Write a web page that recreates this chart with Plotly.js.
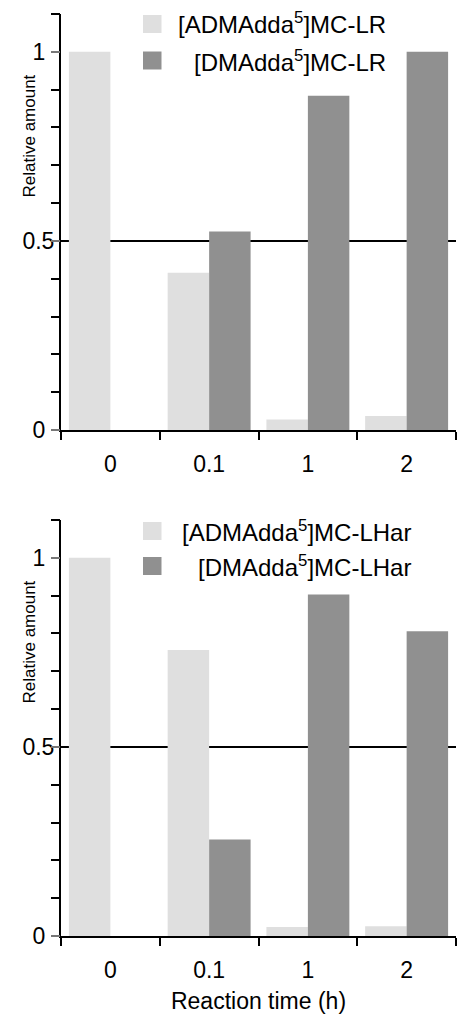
<!DOCTYPE html>
<html>
<head>
<meta charset="utf-8">
<script src="https://cdn.plot.ly/plotly-3.0.1.min.js"></script>
<style>html,body{margin:0;padding:0;background:#fff;}#chart{width:458px;height:1016px;}</style>
</head>
<body>
<div id="chart"></div>
<script>
// ---- data ----
var categories = ['0', '0.1', '1', '2'];
var lrNames = ['[ADMAdda<sup>5</sup>]MC-LR', '[DMAdda<sup>5</sup>]MC-LR'];
var lrADM = [1.0, 0.416, 0.028, 0.037];
var lrDM  = [0.0, 0.525, 0.884, 1.0];
var lharNames = ['[ADMAdda<sup>5</sup>]MC-LHar', '[DMAdda<sup>5</sup>]MC-LHar'];
var lharADM = [1.0, 0.756, 0.024, 0.026];
var lharDM  = [0.0, 0.255, 0.903, 0.806];
var yTickVals = [0, 0.5, 1];
var yTickText = ['0', '0.5', '1'];
var yTitle = 'Relative amount';
var xTitle = 'Reaction time (h)';

// ---- style ----
var FONT = 'Liberation Sans, Arial, sans-serif';
var LIGHT = '#dfdfdf', DARK = '#909090';
var W = 458, H = 1016, ML = 61, MR = 2, MT = 14, MB = 80;
var PW = W - ML - MR, PH = H - MT - MB;
var panelH = 416;
var topDom = [1 - panelH / PH, 1];
var botDom = [0, panelH / PH];
var YR = [0, 1.1001];
function px2x(px) { return (px - ML) / PW; }

function bar(x, y, name, color, xa, ya) {
  return {type: 'bar', x: x, y: y, name: name, xaxis: xa, yaxis: ya,
          marker: {color: color, line: {width: 0}}, showlegend: false, hoverinfo: 'skip'};
}
// invisible helper traces so the overlaid tick-mark axes get drawn
function ghost(xa, ya) {
  return {type: 'scatter', mode: 'markers', x: [categories[0]], y: [yTickVals[0]], xaxis: xa, yaxis: ya,
          marker: {opacity: 0, size: 1}, showlegend: false, hoverinfo: 'skip'};
}
var traces = [
  bar(categories, lrADM, lrNames[0], LIGHT, 'x', 'y'),
  bar(categories, lrDM, lrNames[1], DARK, 'x', 'y'),
  bar(categories, lharADM, lharNames[0], LIGHT, 'x2', 'y2'),
  bar(categories, lharDM, lharNames[1], DARK, 'x2', 'y2'),
  ghost('x', 'y3'),
  ghost('x2', 'y4')
];

var padText = yTickText.map(function (t) { return t.length === 1 ? t + '\u2009\u2009' : t; });

function xaxis(anchor) {
  return {anchor: anchor, domain: [0, 1], type: 'category', showline: true, linewidth: 2, linecolor: '#000',
    ticks: 'outside', tickson: 'boundaries', ticklen: 8, tickwidth: 2, tickcolor: '#000', ticklabelstandoff: 12,
    tickfont: {family: FONT, size: 23, color: '#000'}, showgrid: false, zeroline: false, fixedrange: true};
}
// label axis: line + labels, no ticks
function yaxis(anchor, dom) {
  return {anchor: anchor, domain: dom, range: YR, showline: true, linewidth: 2, linecolor: '#000',
    tickmode: 'array', tickvals: yTickVals, ticktext: padText, ticks: '', ticklabelstandoff: 0,
    tickfont: {family: FONT, size: 23, color: '#000'}, showgrid: false, zeroline: false, fixedrange: true};
}
// tick axis overlaid: major + minor tick marks only
function ytickAxis(anchor, over, dom) {
  return {anchor: anchor, overlaying: over, side: 'left', domain: dom, range: YR, showline: false,
    tickmode: 'array', tickvals: yTickVals, showticklabels: false,
    ticks: 'outside', ticklen: 9, tickwidth: 2, tickcolor: '#777',
    minor: {dtick: 0.1, ticks: 'outside', ticklen: 9, tickwidth: 2, tickcolor: '#000', showgrid: false},
    showgrid: false, zeroline: false, fixedrange: true};
}

var xa2 = xaxis('y2');
xa2.title = {text: xTitle, font: {family: FONT, size: 23, color: '#000'}, standoff: 11};

function legendShapes(yref, rows) {
  return rows.map(function (r, i) {
    return {type: 'rect', xref: 'paper', yref: yref, x0: px2x(143), x1: px2x(161.5),
      y0: 1 - (r + 9) / panelH, y1: 1 - (r - 9) / panelH,
      fillcolor: i === 0 ? LIGHT : DARK, line: {width: 0}};
  });
}
function legendAnn(yref, rows, names, rightPx) {
  return rows.map(function (r, i) {
    return {xref: 'paper', yref: yref, x: px2x(rightPx), y: 1 - r / panelH, xanchor: 'right', yanchor: 'middle',
      text: names[i], showarrow: false, font: {family: FONT, size: 24, color: '#000'}};
  });
}
function yTitleAnn(yref) {
  return {xref: 'paper', yref: yref, x: px2x(29), y: 1 - 122.5 / panelH, xanchor: 'center', yanchor: 'middle',
    textangle: -90, text: yTitle, showarrow: false, font: {family: FONT, size: 17, color: '#000'}};
}
function halfLine(xref, yref) {
  return {type: 'line', xref: xref, yref: yref, x0: 0, x1: 1, y0: 0.5, y1: 0.5,
    line: {color: '#000', width: 2}, layer: 'below'};
}

var layout = {
  width: W, height: H, margin: {l: ML, r: MR, t: MT, b: MB},
  paper_bgcolor: '#fff', plot_bgcolor: '#fff',
  barmode: 'group', bargap: 0.16, bargroupgap: 0,
  showlegend: false,
  font: {family: FONT, color: '#000'},
  xaxis: xaxis('y'), yaxis: yaxis('x', topDom), yaxis3: ytickAxis('x', 'y', topDom),
  xaxis2: xa2, yaxis2: yaxis('x2', botDom), yaxis4: ytickAxis('x2', 'y2', botDom),
  shapes: [halfLine('x domain', 'y'), halfLine('x2 domain', 'y2')]
    .concat(legendShapes('y domain', [10, 46.5]))
    .concat(legendShapes('y2 domain', [11, 46])),
  annotations: legendAnn('y domain', [9.5, 46.5], lrNames, 388)
    .concat(legendAnn('y2 domain', [10.5, 45.5], lharNames, 413))
    .concat([yTitleAnn('y domain'), yTitleAnn('y2 domain')])
};

Plotly.newPlot('chart', traces, layout, {staticPlot: true, displayModeBar: false});
</script>
</body>
</html>
